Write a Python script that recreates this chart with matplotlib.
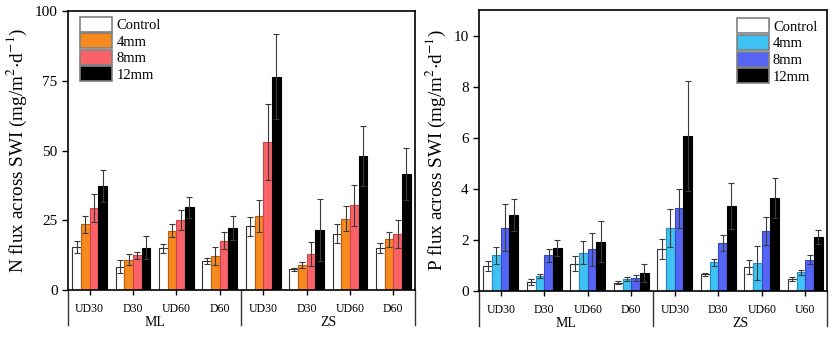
import matplotlib
matplotlib.use("Agg")
import matplotlib.pyplot as plt
import numpy as np

# --- Data ---
series = ["Control", "4mm", "8mm", "12mm"]
sites = ["ML", "ZS"]
n_groups = ["UD30", "D30", "UD60", "D60", "UD30", "D30", "UD60", "D60"]
p_groups = ["UD30", "D30", "UD60", "D60", "UD30", "D30", "UD60", "U60"]

# N flux (mg/m2/d), one list per series, one value per group
n_control = [15.4, 8.4, 14.9, 10.3, 22.9, 7.4, 20.1, 15.1]
n_4mm = [23.5, 10.8, 21.3, 12.1, 26.5, 9.0, 25.6, 18.2]
n_8mm = [29.3, 12.4, 25.0, 17.7, 53.0, 13.0, 30.3, 20.0]
n_12mm = [37.3, 15.1, 29.6, 22.2, 76.5, 21.5, 48.0, 41.5]
n_control_err = [2.3, 2.2, 1.5, 1.1, 3.4, 0.5, 3.4, 1.9]
n_4mm_err = [3.0, 2.0, 2.4, 3.2, 5.8, 1.0, 4.6, 2.7]
n_8mm_err = [5.0, 1.3, 3.6, 3.0, 13.7, 4.3, 7.3, 5.1]
n_12mm_err = [5.6, 4.1, 3.9, 4.3, 15.1, 11.0, 10.7, 9.3]

# P flux (mg/m2/d)
p_control = [0.98, 0.35, 1.07, 0.33, 1.66, 0.65, 0.93, 0.46]
p_4mm = [1.39, 0.59, 1.50, 0.47, 2.46, 1.12, 1.10, 0.73]
p_8mm = [2.48, 1.40, 1.63, 0.52, 3.23, 1.88, 2.35, 1.23]
p_12mm = [2.97, 1.69, 1.93, 0.71, 6.07, 3.32, 3.65, 2.12]
p_control_err = [0.20, 0.12, 0.29, 0.05, 0.39, 0.06, 0.27, 0.08]
p_4mm_err = [0.32, 0.08, 0.46, 0.07, 0.74, 0.13, 0.66, 0.09]
p_8mm_err = [0.91, 0.26, 0.64, 0.12, 0.78, 0.33, 0.55, 0.17]
p_12mm_err = [0.64, 0.32, 0.80, 0.34, 2.15, 0.89, 0.79, 0.28]

plt.rcParams["font.family"] = ["Liberation Serif", "DejaVu Serif"]
plt.rcParams["mathtext.fontset"] = "stix"


def draw_panel(ax, values, errors, colors, edges, groups, ylim, yticks, ylabel, legend_anchor):
    x = np.arange(len(groups))
    width = 0.2
    for i, (vals, errs, color, edge) in enumerate(zip(values, errors, colors, edges)):
        pos = x + (i - 1.5) * width
        ax.bar(pos, vals, width, color=color, edgecolor=edge,
               linewidth=0.8, label=series[i], zorder=2)
        ax.errorbar(pos, vals, yerr=errs, fmt="none", ecolor="#3a3a3a",
                    elinewidth=0.8, capsize=2.5, capthick=0.8, zorder=3)

    ax.set_xlim(-0.5, len(groups) - 0.5)
    ax.set_ylim(*ylim)
    ax.set_yticks(yticks)
    ax.set_xticks(x)
    ax.set_xticklabels(groups, fontsize=8.5)
    ax.tick_params(axis="x", direction="out", length=3.5, width=1, pad=6)
    ax.tick_params(axis="y", direction="out", length=4, width=1, labelsize=11)
    for s in ax.spines.values():
        s.set_linewidth(1.2)
    ax.set_ylabel(ylabel, fontsize=13.8, labelpad=4)

    # site separators and labels below the axis
    trans = ax.get_xaxis_transform()
    for xs in [-0.5, 3.5, 7.5]:
        ax.plot([xs, xs], [0, -0.125], transform=trans, color="#333333",
                lw=1.0, clip_on=False)
    for k, site in enumerate(sites):
        ax.text(1.5 + 4 * k, -0.115, site, transform=trans, ha="center",
                va="center", fontsize=10)

    leg_handles = [plt.Rectangle((0, 0), 1, 1, facecolor=c, edgecolor="#808080", lw=1.2)
                   for c in colors]
    ax.legend(leg_handles, series, loc="upper left", bbox_to_anchor=legend_anchor,
              frameon=False, fontsize=10.5, handlelength=2.2, handleheight=1.2,
              labelspacing=0.08, handletextpad=0.3, borderaxespad=0, borderpad=0)


fig = plt.figure(figsize=(8.31, 3.38), dpi=100)
ax1 = fig.add_axes([68 / 831, 1 - 290 / 338, (415 - 68) / 831, (290 - 11) / 338])
ax2 = fig.add_axes([479 / 831, 1 - 291 / 338, (827 - 479) / 831, (291 - 10) / 338])

draw_panel(ax1, [n_control, n_4mm, n_8mm, n_12mm],
           [n_control_err, n_4mm_err, n_8mm_err, n_12mm_err],
           ["white", "#F7891F", "#FA6268", "black"],
           ["#333333", "#B8600F", "#C8454B", "black"], n_groups,
           (0, 100), [0, 25, 50, 75, 100],
           r"N flux across SWI (mg/m$^2$$\cdot$d$^{-1}$)", (0.035, 0.98))

draw_panel(ax2, [p_control, p_4mm, p_8mm, p_12mm],
           [p_control_err, p_4mm_err, p_8mm_err, p_12mm_err],
           ["white", "#3EC1F3", "#5465F5", "black"],
           ["#333333", "#2A8FB8", "#3A47B8", "black"], p_groups,
           (0, 11), [0, 2, 4, 6, 8, 10],
           r"P flux across SWI (mg/m$^2$$\cdot$d$^{-1}$)", (0.74, 0.97))

fig.savefig("out.png", dpi=100)
